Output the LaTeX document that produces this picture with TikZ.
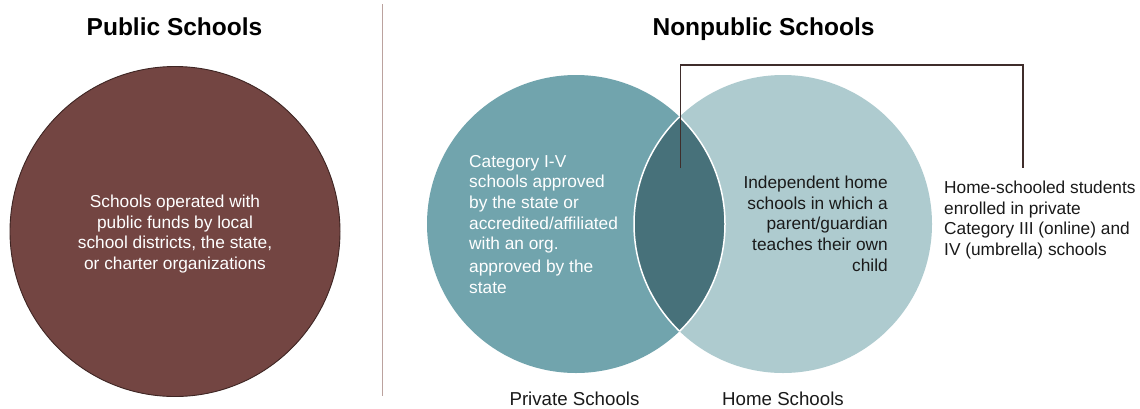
\documentclass[tikz,border=0pt]{standalone}
\usepackage{fontspec}
\setmainfont{Liberation Sans}
\definecolor{publicfill}{HTML}{734542}
\definecolor{publicedge}{HTML}{3E2523}
\definecolor{privatefill}{HTML}{71A4AD}
\definecolor{homefill}{HTML}{AECBCF}
\definecolor{lensfill}{HTML}{47717A}
\definecolor{divider}{HTML}{BBA29E}
\definecolor{connector}{HTML}{3F2D2B}
\definecolor{bodytext}{HTML}{1A1A1A}
\tikzset{
  heading/.style={font=\fontsize{24.5}{28}\selectfont\bfseries, text=black, inner sep=0pt},
  bodyfont/.style={font=\fontsize{17.3}{20.6}\selectfont, inner sep=0pt},
  setlabel/.style={font=\fontsize{18.7}{22}\selectfont, text=bodytext, inner sep=0pt},
  link/.style={draw=connector, line width=1.6pt},
}
\begin{document}
\begin{tikzpicture}[x=1pt, y=-1pt]
\useasboundingbox[fill=white] (0,0) rectangle (1140,408);

% headings
\node[heading, anchor=base] (pubtitle) at (174.5,35) {Public Schools};
\node[heading, anchor=base] (nonpubtitle) at (763.5,35) {Nonpublic Schools};

% divider between the two halves
\draw[divider, line width=1.5pt] (382.5,4) -- (382.5,396);

% public schools circle
\fill[publicfill, draw=publicedge, line width=0.9pt] (175,231.5) circle[radius=165pt];
\node[bodyfont, text=white, align=center, anchor=north] (pubtext) at (175,195)
  {Schools operated with\\public funds by local\\school districts, the state,\\or charter organizations};

% nonpublic Venn diagram
\fill[privatefill] (576,224) circle[radius=149pt];
\fill[homefill] (783,224) circle[radius=149pt];
\begin{scope}
  \clip (576,224) circle[radius=149pt];
  \fill[lensfill] (783,224) circle[radius=149pt];
  \draw[white, line width=1.5pt] (783,224) circle[radius=149pt];
\end{scope}
\begin{scope}
  \clip (783,224) circle[radius=149pt];
  \draw[white, line width=1.5pt] (576,224) circle[radius=149pt];
\end{scope}

\node[bodyfont, text=white, align=left, anchor=north west] (privtext) at (469,155)
  {Category I-V\\schools approved\\by the state or\\accredited/affiliated\\with an org.\\[2.4pt]approved by the\\state};
\node[bodyfont, text=bodytext, align=right, anchor=north east] (hometext) at (888,176)
  {Independent home\\schools in which a\hspace{6pt}\\parent/guardian\\teaches their own\\child};
\node[bodyfont, text=bodytext, align=left, anchor=north west] (note) at (944,181)
  {Home-schooled students\\enrolled in private\\Category III (online) and\\IV (umbrella) schools};

% bracket from the overlap to the note
\coordinate (lenstip) at (680.3,168);
\coordinate (notetip) at (1023,168);
\draw[link] (lenstip) -- ++(0,-103) -| (notetip);

% set labels
\node[setlabel, anchor=base] (privlabel) at (574.5,405) {Private Schools};
\node[setlabel, anchor=base] (homelabel) at (783,405) {Home Schools};
\end{tikzpicture}
\end{document}
